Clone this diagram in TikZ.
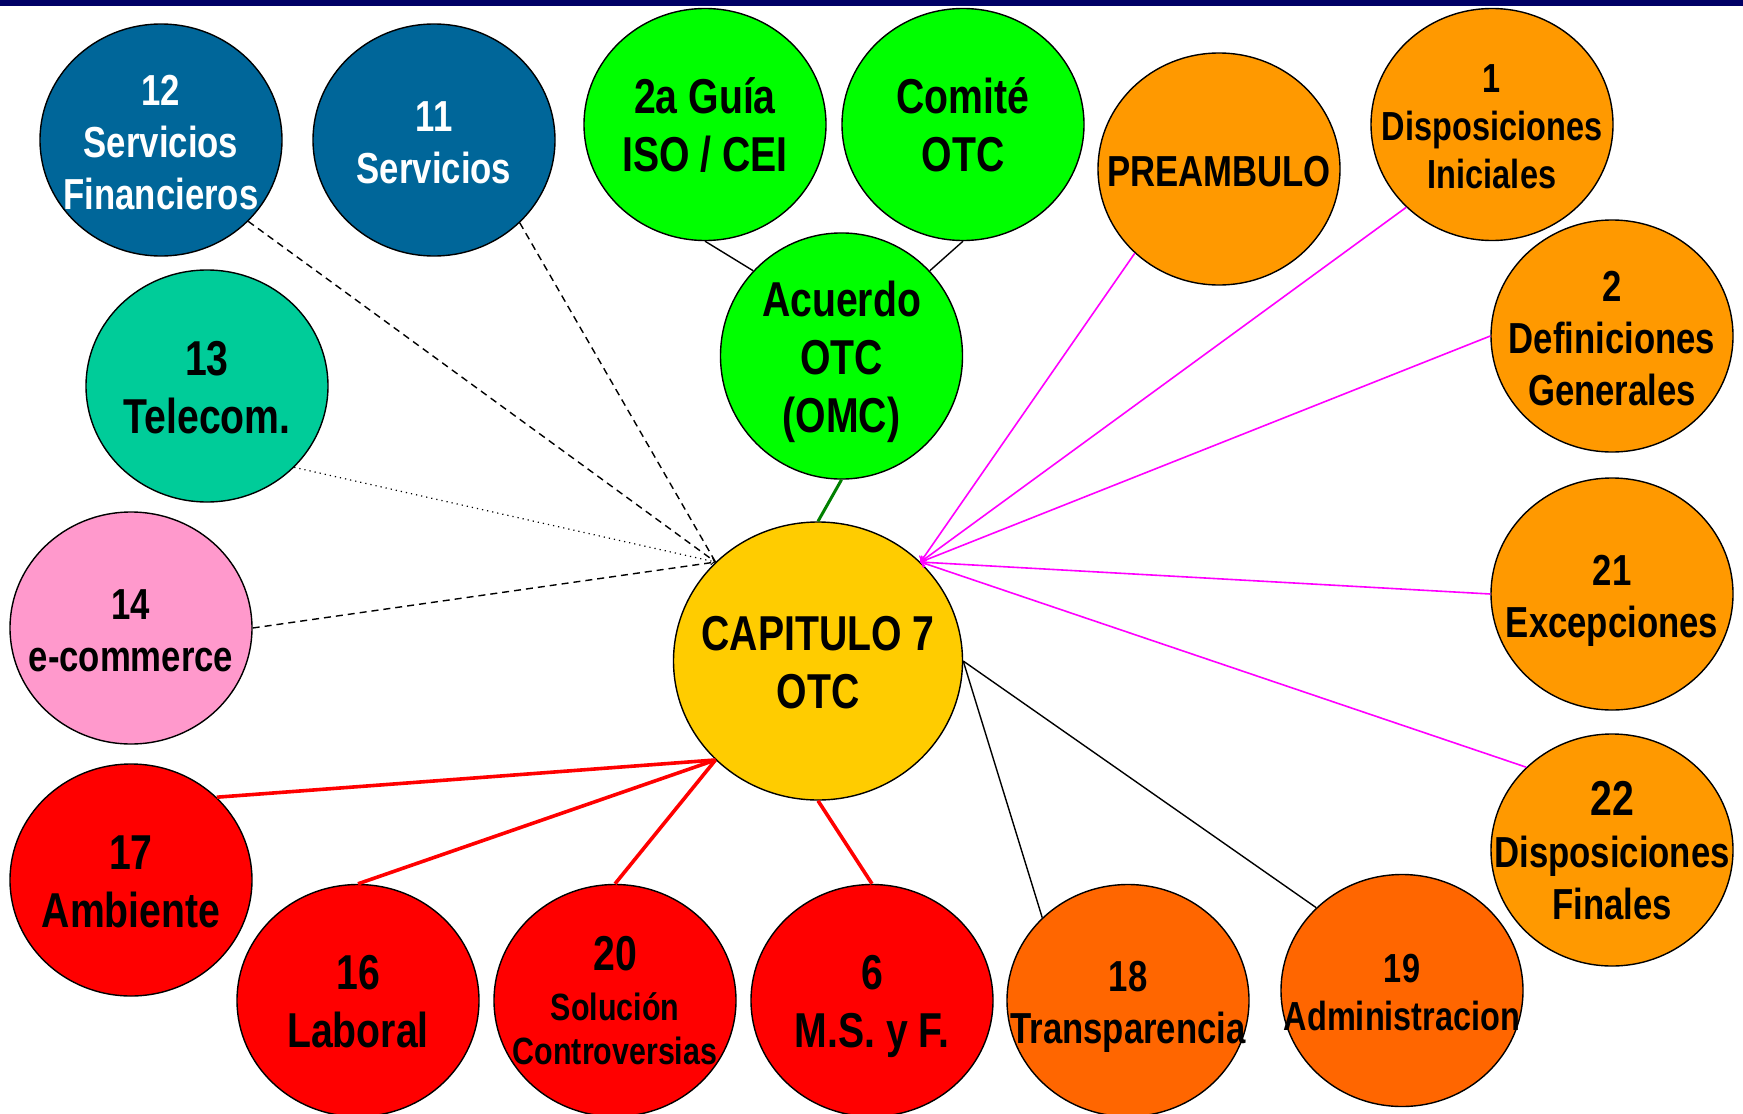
\documentclass[tikz,border=0pt]{standalone}
\usepackage{fontspec}
\setmainfont{Liberation Sans}[FakeStretch=0.8]
\usetikzlibrary{shapes.geometric}
\definecolor{topbar}{HTML}{000066}
\definecolor{azul}{HTML}{006699}
\definecolor{verde}{HTML}{00FF00}
\definecolor{turq}{HTML}{00CC99}
\definecolor{rosa}{HTML}{FF99CC}
\definecolor{amar}{HTML}{FFCC00}
\definecolor{naranja}{HTML}{FF9900}
\definecolor{naranjo}{HTML}{FF6600}
\definecolor{rojo}{HTML}{FF0000}
\definecolor{verdeosc}{HTML}{008000}
\definecolor{magenta}{HTML}{FF00FF}

% texto centrado que no agranda la elipse
\newcommand\ctxt[1]{\raisebox{-3.3pt}[\height][\depth]{\makebox[0pt]{\begin{tabular}{@{}c@{}}#1\end{tabular}}}}

\tikzset{
  txtL/.style={font=\bfseries\fontsize{24.5}{29}\selectfont},
  txtM/.style={font=\bfseries\fontsize{21.7}{26}\selectfont},
  txtS/.style={font=\bfseries\fontsize{20.3}{24}\selectfont},
  txtXS/.style={font=\bfseries\fontsize{19}{22}\selectfont},
  dashes/.style={dash pattern=on 3.5pt off 2.5pt,line width=.7pt},
}

\begin{document}
\begin{tikzpicture}[x=0.5pt,y=-0.5pt,every node/.style={draw,ellipse,
    line width=.7pt,minimum width=121pt,minimum height=116pt,inner sep=0pt}]
  \useasboundingbox (0,0) rectangle (1743,1113);
  \fill[topbar] (0,0) rectangle (1743,6);

  \node[fill=azul,text=white,txtM] (12) at (161,140) {\ctxt{12\\Servicios\\Financieros}};
  \node[fill=azul,text=white,txtM] (11) at (434,140) {\ctxt{11\\Servicios}};
  \node[fill=verde,txtL] (guia) at (705,124.5) {\ctxt{2a Guía\\ISO / CEI}};
  \node[fill=verde,txtL] (comite) at (963,124.5) {\ctxt{Comité\\OTC}};
  \node[fill=verde,txtL] (acuerdo) at (841.5,356) {\ctxt{Acuerdo\\OTC\\(OMC)}};
  \node[fill=naranja,txtM] (pre) at (1219,169) {\ctxt{PREAMBULO}};
  \node[fill=naranja,txtS] (1) at (1492,124.5) {\ctxt{1\\Disposiciones\\Iniciales}};
  \node[fill=naranja,txtM] (2) at (1612,336) {\ctxt{2\\Definiciones\\Generales}};
  \node[fill=turq,txtL] (13) at (207,386) {\ctxt{13\\Telecom.}};
  \node[fill=rosa,txtM] (14) at (131,628) {\ctxt{14\\e-commerce}};

  \node[fill=amar,txtL,minimum width=144.5pt,minimum height=139pt]
    (cap) at (818,661) {\ctxt{CAPITULO 7\\OTC}};

  \node[fill=naranja,txtM] (21) at (1612,594) {\ctxt{21\\Excepciones}};
  \node[fill=naranja,txtM] (22) at (1612,850)
    {\ctxt{{\fontsize{24.5}{26}\selectfont 22}\\Disposiciones\\Finales}};
  \node[fill=rojo,txtL] (17) at (131,880) {\ctxt{17\\Ambiente}};
  \node[fill=rojo,txtL] (16) at (358,1000.5) {\ctxt{16\\Laboral}};
  \node[fill=rojo,txtXS] (20) at (615,1000.5)
    {\ctxt{{\fontsize{24.5}{24}\selectfont 20}\\[3pt]Solución\\Controversias}};
  \node[fill=rojo,txtL] (6) at (872,1000.5) {\ctxt{6\\M.S. y F.}};
  \node[fill=naranjo,txtM] (18) at (1128,1000.5) {\ctxt{18\\Transparencia}};
  \node[fill=naranjo,txtS] (19) at (1402,990.5) {\ctxt{19\\Administracion}};

  % servicios, telecom, e-commerce
  \draw[dashes] (12.317) -- (cap.136);
  \draw[dashes] (11.316) -- (cap.136);
  \draw[->,dotted,line width=.6pt] (13.317) -- (cap.136);
  \draw[dashes] (14.east) -- (cap.136);

  % acuerdo OTC
  \draw[line width=.7pt] (guia.south) -- (acuerdo.136);
  \draw[line width=.7pt] (comite.south) -- (acuerdo.44);
  \draw[verdeosc,line width=1.5pt] (acuerdo.south) -- (cap.north);

  % disposiciones
  \draw[->,magenta,line width=.8pt] (pre.225) -- (cap.44);
  \draw[->,magenta,line width=.8pt] (1.224) -- (cap.44);
  \draw[->,magenta,line width=.8pt] (2.west) -- (cap.44);
  \draw[->,magenta,line width=.8pt] (21.west) -- (cap.44);
  \draw[->,magenta,line width=.8pt] (22.136) -- (cap.44);

  % rojos
  \draw[rojo,line width=1.8pt] (17.44) -- (cap.224);
  \draw[rojo,line width=1.8pt] (16.north) -- (cap.224);
  \draw[rojo,line width=1.8pt] (20.north) -- (cap.224);
  \draw[rojo,line width=1.8pt] (cap.south) -- (6.north);

  \draw[line width=.7pt] (cap.east) -- (18.136);
  \draw[line width=.7pt] (cap.east) -- (19.136);
\end{tikzpicture}
\end{document}
